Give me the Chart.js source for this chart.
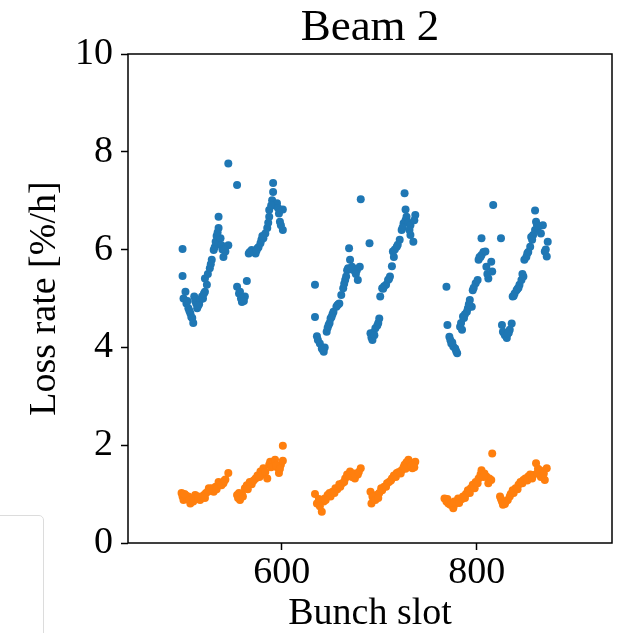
<!DOCTYPE html>
<html lang="en">
<head>
    <meta charset="UTF-8">
    <title>Beam 2</title>
    <script src="https://cdn.jsdelivr.net/npm/chart.js"></script>
    <style>
        body {
            margin: 0;
            background: #fff;
            overflow: hidden;
        }

        .wrap {
            position: relative;
            width: 631px;
            height: 633px;
        }

        /* cut-off box seen at the lower left of the picture */
        .side-box {
            position: absolute;
            left: -10px;
            top: 515px;
            width: 52px;
            height: 140px;
            border: 1px solid #dcdcdc;
            border-radius: 5px;
        }
    </style>
</head>
<body>
    <div class="wrap">
        <canvas id="lossChart" width="631" height="633"></canvas>
        <div class="side-box"></div>
    </div>

    <script>
        // Blue series (upper band)
        const blueSlots = [
            498, 498, 499, 501, 502, 503, 504, 506, 507, 508, 509, 510, 511, 512, 513, 515, 516, 518, 519, 521,
            523, 521, 524, 526, 528, 530, 531, 532, 533, 535, 535, 537, 538, 539, 540, 542, 545, 545, 554,
            505, 514, 520, 527, 534, 541,
            554, 556, 557, 559, 560, 562, 564, 566, 567, 569, 571, 573, 575, 576, 578, 579, 581, 583, 585, 587,
            587, 590, 591, 591, 593, 595, 597, 598, 601, 601, 599,
            558, 561, 568, 574, 580, 586, 589, 596,
            634, 634, 636, 637, 639, 641, 643, 644, 646, 648, 649, 650, 652, 653, 656, 657, 659, 661, 663, 665,
            667, 668, 670, 669, 672, 673, 675, 677, 678, 680, 681, 690,
            642, 647, 651, 658, 664, 666, 671, 676,
            691, 692, 693, 694, 696, 698, 700, 701, 703, 705, 707, 709, 711, 713, 714, 716, 718, 721, 723, 725,
            727, 728, 727, 726, 730, 732, 732, 735, 737, 736,
            695, 699, 704, 710, 715, 719, 724, 731,
            769, 770, 772, 773, 774, 776, 778, 780, 783, 785, 786, 788, 790, 791, 793, 795, 796, 799, 801, 802,
            804, 805, 805, 807, 809, 810, 812, 815, 816, 817, 825,
            775, 779, 784, 787, 792, 797, 803, 811,
            826, 827, 829, 831, 833, 834, 836, 837, 839, 841, 843, 844, 846, 848, 849, 851, 852, 855, 856, 858,
            860, 860, 861, 863, 866, 868, 870, 872, 873,
            828, 832, 838, 842, 847, 853, 857, 862, 871
        ];
        const blueLoss = [
            6.01, 5.46, 5.00, 5.14, 4.90, 4.95, 4.80, 4.70, 4.62, 4.60, 4.50, 5.04, 4.95, 4.90, 4.80, 4.88, 4.97, 5.04, 5.00, 5.14,
            5.28, 5.41, 5.50, 5.62, 5.79, 5.99, 6.05, 6.16, 6.28, 6.44, 6.67, 6.23, 6.09, 6.00, 5.85, 5.96, 6.09, 7.76, 7.32,
            4.75, 4.85, 5.10, 5.70, 6.35, 6.00,
            5.24, 5.10, 5.14, 4.93, 5.00, 5.04, 5.36, 5.92, 5.95, 5.99, 5.95, 5.92, 6.03, 6.05, 6.13, 6.20, 6.23, 6.33, 6.44, 6.67,
            6.81, 7.01, 7.18, 7.36, 6.90, 6.95, 6.74, 6.57, 6.82, 6.40, 6.50,
            5.00, 4.95, 5.95, 5.98, 6.28, 6.55, 6.90, 6.85,
            5.28, 4.62, 4.23, 4.15, 4.08, 3.98, 3.91, 4.00, 4.32, 4.46, 4.50, 4.59, 4.68, 4.73, 4.83, 4.86, 4.90, 5.07, 5.21, 5.38,
            5.58, 5.62, 5.79, 6.03, 5.65, 5.62, 5.55, 5.58, 5.38, 5.65, 7.03, 6.13,
            3.95, 4.40, 4.62, 4.88, 5.30, 5.45, 5.60, 5.50,
            4.29, 4.20, 4.15, 4.30, 4.39, 4.45, 4.59, 5.04, 5.21, 5.25, 5.28, 5.38, 5.45, 5.66, 5.96, 6.00, 6.06, 6.20, 6.40, 6.54,
            6.60, 6.67, 6.82, 7.15, 6.55, 6.50, 6.30, 6.16, 6.71, 6.60,
            4.25, 4.50, 5.20, 5.40, 5.85, 6.10, 6.45, 6.40,
            5.24, 4.46, 4.22, 4.15, 4.08, 4.02, 3.98, 3.88, 4.42, 4.36, 4.63, 4.68, 4.73, 4.80, 4.97, 4.83, 5.17, 5.31, 5.38, 5.79,
            5.85, 5.89, 6.23, 5.95, 5.96, 5.65, 5.41, 5.75, 5.55, 6.91, 6.23,
            4.10, 3.92, 4.50, 4.60, 4.88, 5.22, 5.85, 5.50,
            4.46, 4.32, 4.25, 4.19, 4.30, 4.36, 4.49, 5.04, 5.10, 5.17, 5.22, 5.28, 5.38, 5.45, 5.79, 5.85, 5.92, 6.06, 6.26, 6.30,
            6.40, 6.80, 6.57, 6.45, 6.33, 6.50, 5.96, 5.86, 6.16,
            4.30, 4.28, 5.05, 5.20, 5.50, 5.95, 6.20, 6.50, 6.00
        ];

        // Orange series (lower band)
        const orangeSlots = [
            497, 498, 499, 501, 503, 504, 506, 508, 511, 513, 516, 518, 520, 522, 525, 527, 530, 532, 535, 537, 540, 542, 545,
            500, 505, 509, 514, 521, 524, 528, 533, 538, 541,
            554, 555, 557, 559, 562, 564, 567, 569, 573, 575, 578, 580, 581, 585, 587, 588, 591, 593, 595, 597, 599, 601, 601,
            556, 560, 565, 571, 577, 583, 589, 594, 598,
            634, 636, 638, 641, 643, 644, 647, 650, 652, 655, 657, 660, 662, 665, 667, 670, 672, 675, 678, 681,
            639, 645, 649, 654, 659, 664, 669, 674, 679,
            691, 692, 694, 697, 700, 703, 705, 708, 710, 713, 715, 718, 720, 723, 725, 726, 728, 730, 732, 734, 737,
            693, 696, 699, 702, 707, 712, 717, 722, 727, 733, 736,
            767, 769, 771, 773, 776, 778, 781, 783, 786, 789, 791, 794, 796, 799, 802, 804, 805, 808, 810, 813, 815, 816,
            770, 774, 777, 782, 785, 788, 793, 798, 801, 807, 812,
            824, 826, 827, 830, 832, 835, 837, 840, 843, 845, 848, 850, 853, 855, 858, 861, 863, 865, 868, 870, 872,
            825, 829, 834, 838, 842, 847, 852, 857, 862, 866, 869
        ];
        const orangeLoss = [
            1.02, 0.95, 0.88, 0.98, 0.92, 0.95, 0.81, 0.90, 0.98, 0.92, 0.88, 0.95, 0.98, 1.02, 1.12, 1.08, 1.05, 1.15, 1.25, 1.20, 1.22, 1.30, 1.43,
            1.00, 0.88, 0.85, 0.95, 0.92, 1.05, 1.12, 1.10, 1.18, 1.28,
            0.98, 0.92, 0.88, 1.00, 1.12, 1.18, 1.25, 1.20, 1.32, 1.38, 1.46, 1.40, 1.53, 1.32, 1.60, 1.66, 1.62, 1.70, 1.55, 1.43, 1.60, 1.68, 1.99,
            1.02, 0.95, 1.10, 1.28, 1.35, 1.45, 1.55, 1.58, 1.52,
            1.00, 0.81, 0.90, 0.64, 0.85, 0.91, 0.98, 0.95, 1.05, 1.12, 1.10, 1.15, 1.22, 1.32, 1.40, 1.46, 1.35, 1.32, 1.40, 1.53,
            0.75, 0.88, 1.02, 1.02, 1.20, 1.25, 1.38, 1.42, 1.45,
            1.05, 0.81, 0.90, 0.98, 1.02, 1.08, 1.15, 1.22, 1.25, 1.32, 1.38, 1.43, 1.45, 1.49, 1.55, 1.60, 1.65, 1.70, 1.62, 1.53, 1.66,
            0.95, 0.88, 0.92, 1.12, 1.15, 1.28, 1.35, 1.42, 1.52, 1.58, 1.55,
            0.91, 0.85, 0.81, 0.78, 0.71, 0.80, 0.91, 0.88, 0.95, 1.00, 1.08, 1.12, 1.19, 1.25, 1.32, 1.40, 1.49, 1.42, 1.36, 1.32, 1.29, 1.83,
            0.90, 0.82, 0.85, 0.82, 0.90, 0.92, 1.02, 1.12, 1.22, 1.35, 1.22,
            0.95, 0.85, 0.78, 0.85, 0.88, 1.00, 1.08, 1.12, 1.19, 1.25, 1.29, 1.32, 1.36, 1.40, 1.39, 1.63, 1.52, 1.49, 1.38, 1.29, 1.53,
            0.90, 0.80, 0.95, 1.02, 1.10, 1.22, 1.28, 1.32, 1.42, 1.35, 1.42
        ];

        const xTicks = [600, 800];
        const yTicks = [0, 2, 4, 6, 8, 10];

        const toPoints = (xs, ys) => xs.map((x, i) => ({ x: x, y: ys[i] }));

        const serif = "'Liberation Serif', 'DejaVu Serif', serif";
        Chart.defaults.font.family = serif;
        Chart.defaults.color = '#000';

        // frame around the plot and the title on top
        const framePlugin = {
            id: 'frame',
            afterDraw(chart) {
                const { ctx, chartArea } = chart;
                ctx.save();
                ctx.strokeStyle = '#000';
                ctx.lineWidth = 1.5;
                ctx.strokeRect(chartArea.left, chartArea.top,
                    chartArea.right - chartArea.left, chartArea.bottom - chartArea.top);
                ctx.fillStyle = '#000';
                ctx.font = '45px ' + serif;
                ctx.textAlign = 'center';
                ctx.textBaseline = 'alphabetic';
                ctx.fillText('Beam 2', (chartArea.left + chartArea.right) / 2, chartArea.top - 14);
                ctx.restore();
            }
        };

        const ctx = document.getElementById('lossChart').getContext('2d');
        new Chart(ctx, {
            type: 'scatter',
            data: {
                datasets: [
                    {
                        label: 'Beam 2 blue',
                        data: toPoints(blueSlots, blueLoss),
                        backgroundColor: '#1f77b4',
                        borderWidth: 0,
                        pointRadius: 4
                    },
                    {
                        label: 'Beam 2 orange',
                        data: toPoints(orangeSlots, orangeLoss),
                        backgroundColor: '#ff7f0e',
                        borderWidth: 0,
                        pointRadius: 4
                    }
                ]
            },
            options: {
                responsive: false,
                animation: false,
                layout: {
                    padding: { top: 54, right: 19, left: 0, bottom: 0 }
                },
                plugins: {
                    legend: { display: false },
                    tooltip: { enabled: false }
                },
                scales: {
                    x: {
                        type: 'linear',
                        min: 442,
                        max: 939,
                        afterBuildTicks: function(scale) {
                            scale.ticks = xTicks.map(v => ({ value: v }));
                        },
                        afterFit: function(scale) {
                            scale.height = 90;
                        },
                        grid: {
                            drawOnChartArea: false,
                            tickLength: 7,
                            tickWidth: 1.5,
                            tickColor: '#000'
                        },
                        border: { display: false },
                        ticks: {
                            font: { size: 38 },
                            padding: 0,
                            maxRotation: 0
                        },
                        title: {
                            display: true,
                            text: 'Bunch slot',
                            font: { size: 38, lineHeight: 1 },
                            padding: 0
                        }
                    },
                    y: {
                        min: 0,
                        max: 10,
                        afterBuildTicks: function(scale) {
                            scale.ticks = yTicks.map(v => ({ value: v }));
                        },
                        afterFit: function(scale) {
                            scale.width = 128;
                        },
                        grid: {
                            drawOnChartArea: false,
                            tickLength: 7,
                            tickWidth: 1.5,
                            tickColor: '#000'
                        },
                        border: { display: false },
                        ticks: {
                            font: { size: 38 },
                            padding: 8
                        },
                        title: {
                            display: true,
                            text: 'Loss rate [%/h]',
                            font: { size: 38, lineHeight: 1 },
                            padding: { top: 26, bottom: 0 }
                        }
                    }
                }
            },
            plugins: [framePlugin]
        });
    </script>
</body>
</html>
